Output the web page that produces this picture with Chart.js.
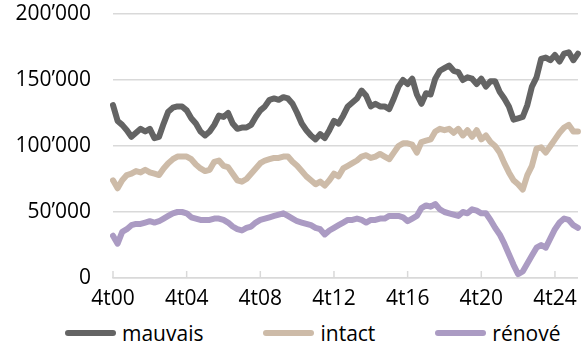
<!DOCTYPE html>
<html>
<head>
<meta charset="utf-8">
<script src="https://cdn.jsdelivr.net/npm/chart.js@4"></script>
<style>
  body { margin: 0; background: #fff; }
  #wrap { position: relative; width: 585px; height: 349px; font-family: "Open Sans", sans-serif; }
  #box { position: absolute; left: 0; top: 0; width: 585px; height: 318px; }
  #legend { position: absolute; left: 65px; top: 319px; display: flex; gap: 60px; font-size: 21px; color: #000; }
  .item { display: flex; align-items: center; gap: 6px; }
  .swatch { width: 51px; height: 6px; border-radius: 3px; }
</style>
</head>
<body>
<div id="wrap">
  <div id="box"><canvas id="chart"></canvas></div>
  <div id="legend"></div>
</div>
<script>
// quarters 4t00 .. 1t26
const quarters = [];
for (let i = 0; i < 102; i++) {
  const q = (i + 3) % 4 + 1;
  const yr = 2000 + Math.floor((i + 3) / 4);
  quarters.push(q + "t" + String(yr).slice(2));
}

const seriesNames = ["mauvais", "intact", "rénové"];
const seriesColors = ["#646464", "#cdbba8", "#ab9bc3"];
const yTicks = [0, 50000, 100000, 150000, 200000];

const mauvais = [
  131000, 119000, 116000, 112000, 107000, 110000, 113000, 111000, 113000, 106000, 107000, 117000, 126000, 129000, 130000,
  130000, 127000, 121000, 117000, 111000, 108000, 111000, 116000, 123000, 122000, 125000, 117000, 113000, 114000, 114000,
  116000, 122000, 127000, 130000, 135000, 136000, 135000, 137000, 136000, 132000, 125000, 117000, 112000, 108000,
  105000, 109000, 106000, 112000, 119000, 117000, 123000, 130000, 133000, 136000, 142000, 138000, 130000, 132000, 130000,
  130000, 128000, 136000, 145000, 150000, 147000, 151000, 139000, 132000, 140000, 139000, 151000, 157000, 159000, 161000,
  157000, 156000, 150000, 152000, 151000, 147000, 151000, 145000, 149000, 149000, 141000, 136000, 130000, 120000, 121000,
  122000, 131000, 145000, 152000, 166000, 167000, 165000, 169000, 164000, 170000, 171000, 165000, 170000
];

const intact = [
  74000, 68000, 74000, 78000, 79000, 81000, 80000, 82000, 80000, 79000, 78000, 83000, 87000, 90000, 92000,
  92000, 92000, 90000, 86000, 83000, 81000, 82000, 88000, 89000, 85000, 84000, 79000, 74000, 73000, 75000,
  79000, 83000, 87000, 89000, 90000, 91000, 91000, 92000, 92000, 88000, 85000, 81000, 77000, 74000,
  71000, 73000, 70000, 74000, 79000, 77000, 83000, 85000, 87000, 89000, 92000, 93000, 91000, 92000, 94000,
  92000, 90000, 95000, 100000, 102000, 102000, 101000, 95000, 103000, 104000, 105000, 111000, 113000, 112000, 113000,
  110000, 113000, 108000, 112000, 107000, 112000, 105000, 108000, 103000, 100000, 95000, 87000, 80000, 74000, 71000,
  67000, 78000, 85000, 98000, 99000, 95000, 100000, 105000, 110000, 114000, 116000, 111000, 111000
];

const renove = [
  32000, 26000, 35000, 37000, 40000, 41000, 41000, 42000, 43000, 42000, 43000, 45000, 47000, 49000, 50000,
  50000, 49000, 46000, 45000, 44000, 44000, 44000, 45000, 45000, 44000, 42000, 39000, 37000, 36000, 38000,
  39000, 42000, 44000, 45000, 46000, 47000, 48000, 49000, 47000, 45000, 43000, 42000, 41000, 40000,
  38000, 37000, 33000, 36000, 38000, 40000, 42000, 44000, 44000, 45000, 44000, 42000, 44000, 44000, 45000,
  45000, 47000, 47000, 47000, 46000, 43000, 45000, 47000, 53000, 55000, 54000, 56000, 52000, 50000, 49000,
  48000, 47000, 50000, 49000, 52000, 51000, 49000, 49000, 44000, 38000, 33000, 26000, 18000, 10000, 3000,
  5000, 11000, 17000, 23000, 25000, 23000, 30000, 37000, 42000, 45000, 44000, 40000, 38000
];

const allSeries = [mauvais, intact, renove];

function fmt(v) {
  return String(v).replace(/\B(?=(\d{3})+(?!\d))/g, "\u2019");
}

// small tick marks standing up from the x axis every 16 quarters
const innerTicks = {
  id: "innerTicks",
  beforeDatasetsDraw(chart) {
    const c = chart.ctx;
    const x = chart.scales.x;
    const bottom = chart.chartArea.bottom;
    c.save();
    c.strokeStyle = "#d9d9d9";
    c.lineWidth = 1.5;
    for (let i = 0; i < quarters.length; i += 16) {
      const px = x.getPixelForValue(i);
      c.beginPath();
      c.moveTo(px, bottom);
      c.lineTo(px, bottom - 7);
      c.stroke();
    }
    c.restore();
  }
};

const ctx = document.getElementById("chart");

const chart = new Chart(ctx, {
  type: "line",
  data: {
    labels: quarters,
    datasets: allSeries.map((d, k) => ({
      label: seriesNames[k],
      data: d,
      borderColor: seriesColors[k],
      backgroundColor: seriesColors[k],
      borderWidth: 6,
      pointRadius: 0,
      tension: 0,
      borderJoinStyle: "round",
      borderCapStyle: "round",
    })),
  },
  options: {
    responsive: true,
    maintainAspectRatio: false,
    animation: false,
    layout: { padding: { top: 0, right: 6, left: 0, bottom: 0 } },
    scales: {
      x: {
        offset: false,
        grid: { display: false, drawTicks: false },
        border: { display: true, color: "#d9d9d9", width: 1.5 },
        ticks: {
          autoSkip: false,
          maxRotation: 0,
          padding: 8,
          color: "#000",
          font: { family: "Open Sans", size: 21 },
          callback: (v, i) => (i % 16 === 0 ? quarters[i] : null),
        },
        afterFit: (s) => { s.height = 40; },
      },
      y: {
        min: 0,
        max: 200000,
        afterBuildTicks: (s) => { s.ticks = yTicks.map((v) => ({ value: v })); },
        grid: { color: "#d9d9d9", lineWidth: 1.5, drawTicks: false },
        border: { display: false },
        ticks: {
          padding: 22,
          color: "#000",
          font: { family: "Open Sans", size: 21 },
          callback: (v) => fmt(v),
        },
        afterFit: (s) => { s.width = 113; s.paddingTop = 14; s.paddingBottom = 0; },
      },
    },
    plugins: {
      legend: { display: false },
      tooltip: { enabled: false },
    },
  },
  plugins: [innerTicks],
});

const legend = document.getElementById("legend");
seriesNames.forEach((n, k) => {
  legend.innerHTML += `<div class="item"><div class="swatch" style="background:${seriesColors[k]}"></div><span>${n}</span></div>`;
});
</script>
</body>
</html>
